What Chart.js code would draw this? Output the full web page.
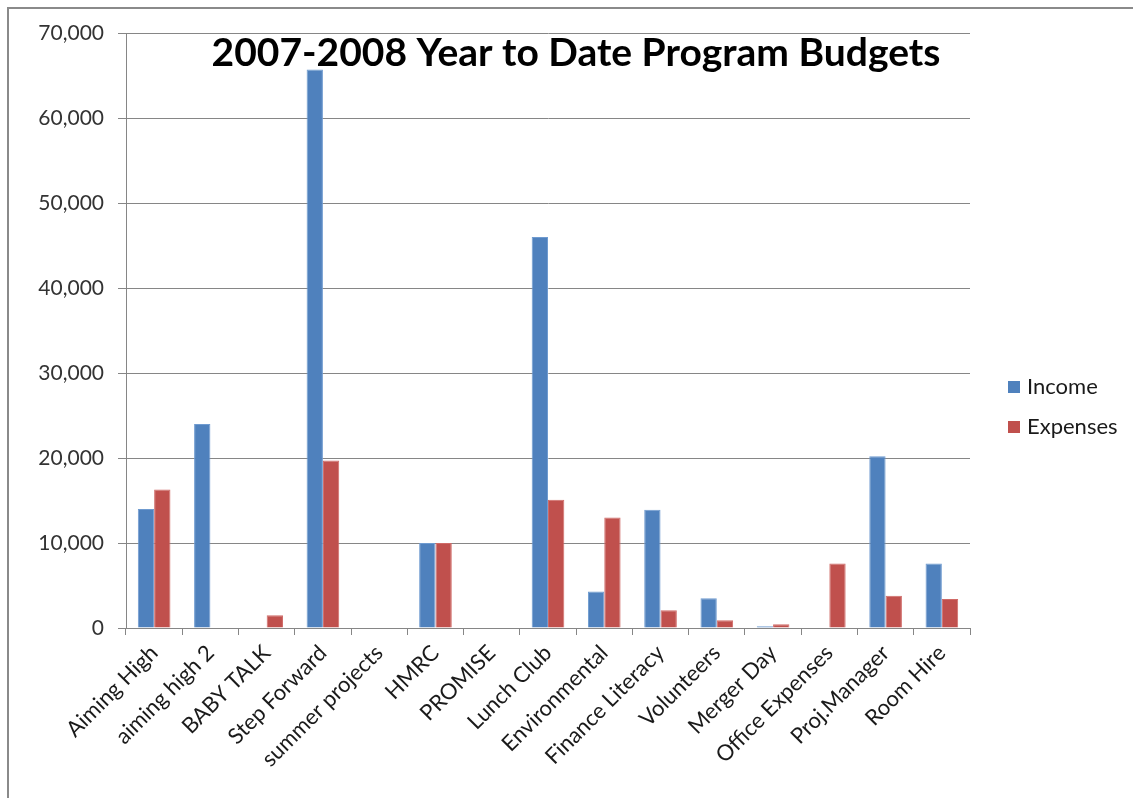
<!DOCTYPE html>
<html>
<head>
<meta charset="utf-8">
<title>2007-2008 Year to Date Program Budgets</title>
<script src="https://cdn.jsdelivr.net/npm/chart.js@4"></script>
<style>
    html, body { margin: 0; padding: 0; background: #fff; }
    .chartWrapper { position: relative; width: 1133px; height: 798px; overflow: hidden; }
    .chartFrame {
        position: absolute; left: 7px; top: 7px; right: -10px; bottom: -10px;
        border-top: 2px solid #8a8a8a; border-left: 2px solid #8a8a8a;
        pointer-events: none;
    }
</style>
</head>
<body>
<div class="chartWrapper">
    <canvas id="myChart"></canvas>
    <div class="chartFrame"></div>
</div>
<script>
// 項目名
var programs = ['Aiming High', 'aiming high 2', 'BABY TALK', 'Step Forward', 'summer projects',
    'HMRC', 'PROMISE', 'Lunch Club', 'Environmental', 'Finance Literacy', 'Volunteers',
    'Merger Day', 'Office Expenses', 'Proj.Manager', 'Room Hire'];
// 収入・支出 (空欄はnull)
var income = [14000, 24000, null, 65700, null, 10000, null, 46000, 4300, 13900, 3500, 200, null, 20200, 7600];
var expenses = [16300, null, 1500, 19700, null, 10000, null, 15100, 13000, 2100, 900, 450, 7600, 3800, 3400];
var yTicks = [0, 10000, 20000, 30000, 40000, 50000, 60000, 70000];

var chartTitle = '2007-2008 Year to Date Program Budgets';
var fontFamily = 'Lato, "Open Sans", sans-serif';

// タイトルと凡例はグラフ領域に重ねて描く
var overlayPlugin = {
    id: 'overlay',
    afterDraw: function (chart) {
        var ctx = chart.ctx;
        ctx.save();
        ctx.fillStyle = '#000';
        ctx.font = 'bold 39px ' + fontFamily;
        ctx.textAlign = 'center';
        ctx.textBaseline = 'alphabetic';
        ctx.fillText(chartTitle, 576, 66);

        var x = chart.chartArea.right + 38;
        var y = 387;
        ctx.font = '22px ' + fontFamily;
        ctx.textAlign = 'left';
        ctx.textBaseline = 'middle';
        chart.data.datasets.forEach(function (ds) {
            ctx.fillStyle = ds.backgroundColor;
            ctx.fillRect(x, y - 6, 12, 12);
            ctx.fillStyle = '#1a1a1a';
            ctx.fillText(ds.label, x + 19, y);
            y += 40;
        });
        ctx.restore();
    }
};

var ctx = document.getElementById('myChart').getContext('2d');
var config = {
    type: 'bar',
    data: {
        labels: programs,
        datasets: [{
            label: 'Income',
            data: income,
            backgroundColor: '#4F81BD',
            borderColor: '#6f9bd0',
            borderWidth: 1,
            categoryPercentage: 0.58,
            barPercentage: 1
        }, {
            label: 'Expenses',
            data: expenses,
            backgroundColor: '#C0504D',
            borderColor: '#d06a67',
            borderWidth: 1,
            categoryPercentage: 0.58,
            barPercentage: 1
        }]
    },
    options: {
        responsive: true,
        maintainAspectRatio: false,
        animation: false,
        layout: {
            padding: { left: 0, top: 33, right: 163, bottom: 0 }
        },
        plugins: {
            legend: { display: false },
            title: { display: false },
            tooltip: { enabled: false }
        },
        scales: {
            x: {
                grid: {
                    offset: true,
                    drawOnChartArea: false,
                    drawTicks: true,
                    tickLength: 7,
                    color: '#868686'
                },
                border: { display: true, color: '#868686', width: 1 },
                ticks: {
                    minRotation: 45,
                    maxRotation: 45,
                    autoSkip: false,
                    padding: 5,
                    color: '#1a1a1a',
                    font: { family: fontFamily, size: 22 }
                },
                afterFit: function (scale) {
                    scale.height = 170;
                }
            },
            y: {
                min: 0,
                max: 70000,
                afterBuildTicks: function (scale) {
                    scale.ticks = yTicks.map(function (v) { return { value: v }; });
                },
                grid: {
                    color: '#868686',
                    tickLength: 8,
                    drawTicks: true
                },
                border: { display: true, color: '#868686', width: 1 },
                ticks: {
                    padding: 14,
                    color: '#333',
                    font: { family: fontFamily, size: 21 }
                },
                afterFit: function (scale) {
                    scale.width = 126;
                }
            }
        }
    },
    plugins: [overlayPlugin]
};
var myChart = new Chart(ctx, config);
</script>
</body>
</html>
